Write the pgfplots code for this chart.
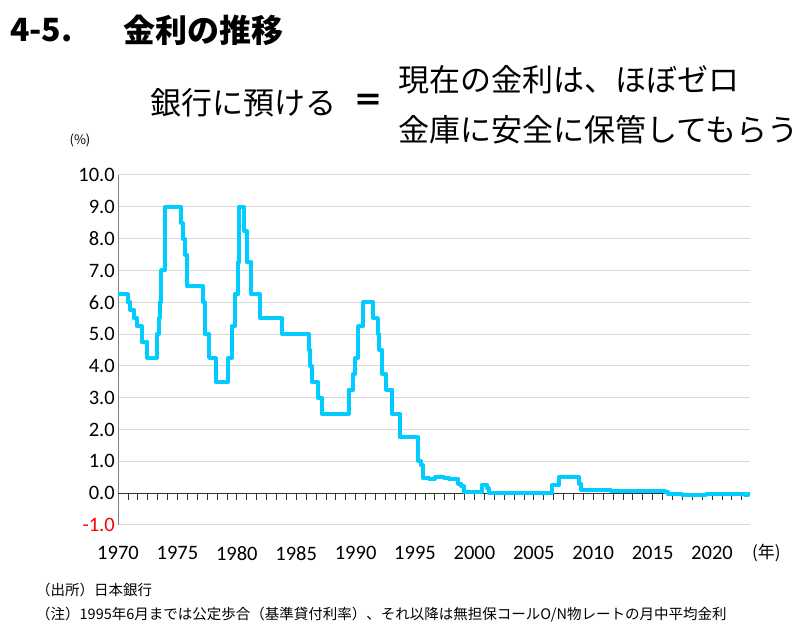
\documentclass[border=0pt]{standalone}
\usepackage{fontspec}
\usepackage{pgfplots}
\pgfplotsset{compat=1.18}
\setmainfont{Carlito}
\newfontfamily\jp{Noto Sans CJK JP}
\definecolor{lineblue}{RGB}{0,204,255}
\definecolor{grd}{RGB}{217,217,217}
\definecolor{axgray}{RGB}{128,128,128}
\begin{document}
\begin{tikzpicture}[x=1bp,y=1bp]
\path[use as bounding box] (0,0) rectangle (802,631);
\begin{axis}[
  at={(118bp,106bp)}, anchor=south west,
  scale only axis, width=632bp, height=350bp,
  xmin=1970, xmax=2023.2, ymin=-1, ymax=10,
  axis line style={draw=none},
  major tick length=0pt,
  ytick={-1,0,...,10},
  yticklabels={{\textcolor{red}{-1.0}},0.0,1.0,2.0,3.0,4.0,5.0,6.0,7.0,8.0,9.0,10.0},
  xtick={1970,1975,1980,1985,1990,1995,2000,2005,2010,2015,2020},
  xticklabels={1970,1975,1980,1985,1990,1995,2000,2005,2010,2015,2020},
  ticklabel style={font=\fontsize{20.5bp}{24bp}\selectfont},
  yticklabel style={anchor=east, inner sep=0pt, xshift=-3bp},
  xticklabel style={anchor=north, inner sep=0pt, yshift=-21bp},
  ymajorgrids, grid style={grd, line width=1bp},
]
\draw[axgray, line width=1.5bp] (rel axis cs:0,0) -- (rel axis cs:0,1);
\draw[black!80, line width=1bp] (axis cs:1970,0) -- (axis cs:2023.2,0);
\pgfplotsinvokeforeach{1,...,63}{\draw[black!80, line width=0.8bp] (axis cs:{1970+#1*0.833333},0) -- ++(0bp,-7bp);}
\addplot[const plot, lineblue, line width=4bp, line join=round, line cap=round] coordinates {
(1970.00,6.25) (1970.82,6.00) (1971.05,5.75) (1971.35,5.50) (1971.57,5.25) (1971.99,4.75)
(1972.48,4.25) (1973.25,5.00) (1973.41,5.50) (1973.50,6.00) (1973.66,7.00) (1973.97,9.00)
(1975.29,8.50) (1975.43,8.00) (1975.61,7.50) (1975.81,6.50) (1977.19,6.00) (1977.29,5.00)
(1977.67,4.25) (1978.21,3.50) (1979.29,4.25) (1979.56,5.25) (1979.84,6.25) (1980.13,7.25)
(1980.21,9.00) (1980.63,8.25) (1980.85,7.25) (1981.21,6.25) (1981.94,5.50) (1983.81,5.00)
(1986.08,4.50) (1986.19,4.00) (1986.30,3.50) (1986.83,3.00) (1987.14,2.50) (1989.41,3.25)
(1989.78,3.75) (1989.98,4.25) (1990.21,5.25) (1990.66,6.00) (1991.50,5.50) (1991.87,5.00)
(1991.99,4.50) (1992.25,3.75) (1992.57,3.25) (1993.09,2.50) (1993.72,1.75) (1995.29,1.00)
(1995.50,0.88) (1995.67,0.47) (1996.20,0.46) (1996.70,0.50) (1997.40,0.49) (1997.90,0.43)
(1998.20,0.45) (1998.65,0.30) (1998.90,0.22) (1999.10,0.05) (1999.25,0.03) (2000.60,0.25)
(2001.10,0.15) (2001.20,0.02) (2006.50,0.25) (2007.10,0.50) (2008.80,0.30) (2009.00,0.10)
(2010.50,0.09) (2011.50,0.08) (2013.00,0.07) (2016.05,0.03) (2016.30,-0.04) (2017.50,-0.05)
(2018.50,-0.06) (2019.50,-0.04) (2020.30,-0.03) (2021.00,-0.02) (2021.80,-0.03) (2022.50,-0.02)
(2022.80,-0.06) (2023.00,-0.02) (2023.15,-0.02)
};
\end{axis}
\node[anchor=west, inner sep=0pt, font=\jp\bfseries\fontsize{32bp}{38bp}\selectfont] at (10,601) {4-5.};
\node[anchor=west, inner sep=0pt, font=\jp\bfseries\fontsize{32bp}{38bp}\selectfont] at (123,601) {金利の推移};
\node[anchor=west, inner sep=0pt, font=\jp\fontsize{31bp}{36bp}\selectfont] at (150,528) {銀行に預ける};
\node[inner sep=0pt, font=\jp\bfseries\fontsize{30bp}{36bp}\selectfont] at (368,528) {＝};
\node[anchor=west, inner sep=0pt, font=\jp\fontsize{31bp}{36bp}\selectfont] at (398,551) {現在の金利は、ほぼゼロ};
\node[anchor=west, inner sep=0pt, font=\jp\fontsize{31bp}{36bp}\selectfont] at (398,501) {金庫に安全に保管してもらう};
\node[inner sep=0pt, font=\jp\fontsize{13bp}{16bp}\selectfont] at (80,491) {(\%)};
\node[anchor=west, inner sep=0pt, font=\jp\fontsize{17bp}{20bp}\selectfont] at (752,78) {(年)};
\node[anchor=west, inner sep=0pt, font=\jp\fontsize{14.5bp}{17bp}\selectfont] at (36,41) {（出所）日本銀行};
\node[anchor=west, inner sep=0pt, font=\jp\fontsize{14.5bp}{17bp}\selectfont] at (36,16) {（注）1995年6月までは公定歩合（基準貸付利率）、それ以降は無担保コールO/N物レートの月中平均金利};
\end{tikzpicture}
\end{document}
